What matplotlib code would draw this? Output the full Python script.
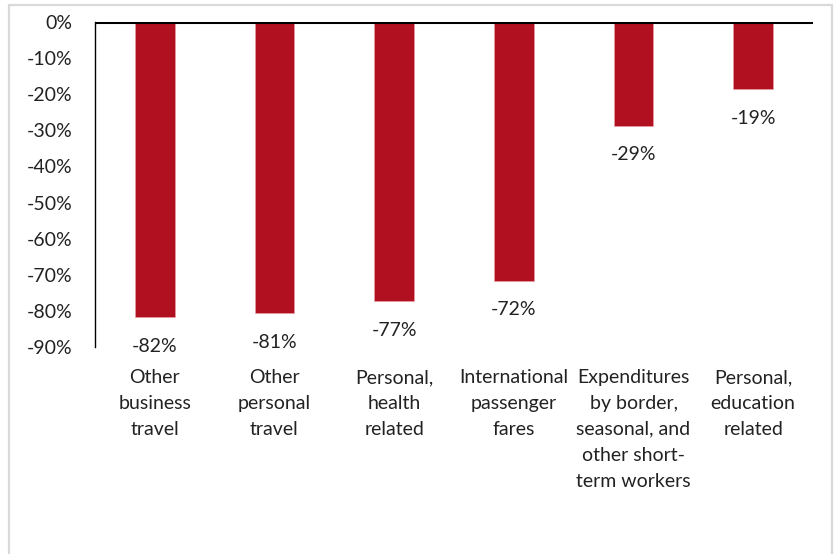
import matplotlib
matplotlib.use("Agg")
import matplotlib.pyplot as plt
from matplotlib.patches import Rectangle

categories = [
    "Other\nbusiness\ntravel",
    "Other\npersonal\ntravel",
    "Personal,\nhealth\nrelated",
    "International\npassenger\nfares",
    "Expenditures\nby border,\nseasonal, and\nother short-\nterm workers",
    "Personal,\neducation\nrelated",
]
values = [-81.7, -80.6, -77.2, -71.6, -28.7, -18.6]
yticks = [0, -10, -20, -30, -40, -50, -60, -70, -80, -90]

BAR = "#B01020"
plt.rcParams["font.family"] = ["Lato", "DejaVu Sans"]

fig = plt.figure(figsize=(8.35, 5.54), dpi=100)
ax = fig.add_axes([95 / 835, 1 - 347 / 554, 718 / 835, 325 / 554])

x = range(len(categories))
ax.bar(x, values, width=0.33, color=BAR, edgecolor="#E8A0A8", linewidth=0.4)

for i, v in enumerate(values):
    ax.annotate(f"{v:.0f}%", (i, v), xytext=(0, -15), textcoords="offset points",
                ha="center", va="top", fontsize=14, color="#222222")

ax.set_xlim(-0.5, len(categories) - 0.5)
ax.set_ylim(-90, 0)
ax.set_yticks(yticks)
ax.set_yticklabels([f"{t}%" for t in yticks], fontsize=14, color="#222222")
ax.set_xticks(list(x))
ax.set_xticklabels(categories, fontsize=14, color="#222222")
for lbl in ax.get_xticklabels():
    lbl.set_linespacing(1.63)
ax.tick_params(axis="y", length=0, pad=16)
ax.tick_params(axis="x", length=0, pad=16)

for s in ["right", "bottom", "top"]:
    ax.spines[s].set_visible(False)
ax.spines["left"].set_linewidth(1.0)
ax.axhline(0, color="black", linewidth=2.2, zorder=5)

fig.patches.append(Rectangle((9 / 835, -0.05), 823 / 835, 1.05 - 5 / 554,
                             transform=fig.transFigure, fill=False,
                             edgecolor="#D9D9D9", linewidth=1.6))

fig.savefig("out.png", dpi=100, facecolor="white")
